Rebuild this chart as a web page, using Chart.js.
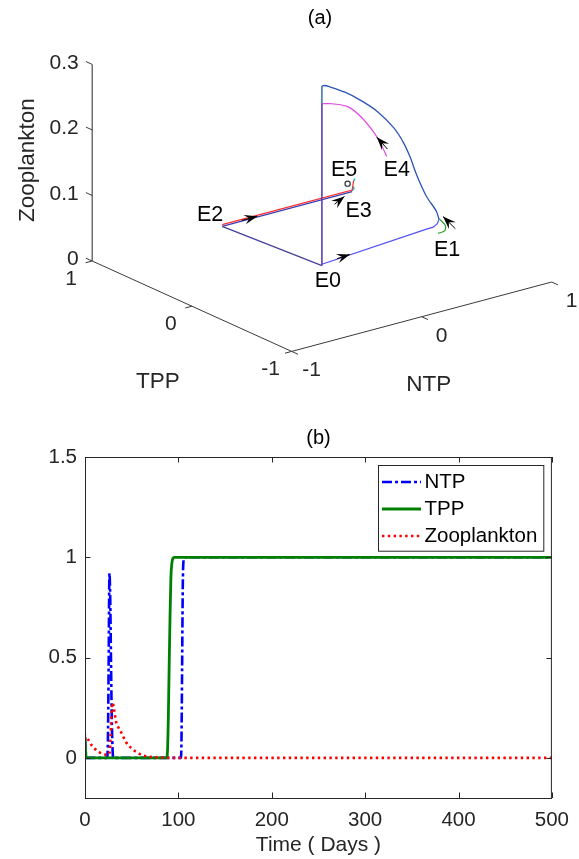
<!DOCTYPE html>
<html><head><meta charset="utf-8">
<script src="https://cdn.jsdelivr.net/npm/chart.js@4.4.1/dist/chart.umd.min.js"></script>
<style>
html,body{margin:0;padding:0;background:#fff;}
#wrap{position:relative;width:579px;height:859px;overflow:hidden;background:#fff;}
canvas{position:absolute;left:0;}
#ca{top:0;} #cb{top:420px;}
</style></head><body>
<div id="wrap"><canvas id="ca" width="579" height="420"></canvas><canvas id="cb" width="579" height="439"></canvas></div>
<script>
const FONT = '"Liberation Sans", Arial, Helvetica, sans-serif';
const AXIS_COLOR = '#262626';

// ================= Panel (a) data: 3-D phase portrait [NTP, TPP, Zooplankton] =================
const ntpRange = [-1, 1], tppRange = [-1, 1], zooRange = [0, 0.3];
const ntpTicks = [-1, 0, 1], tppTicks = [-1, 0, 1], zooTicks = [0, 0.1, 0.2, 0.3];

const orbitTopArc = [[0,0,0.283],[0.02,0.002,0.2826],[0.056,0.006,0.279],[0.193,0.02,0.262],[0.328,0.034,0.241],[0.465,0.048,0.216],[0.601,0.062,0.183],[0.683,0.07,0.155],[0.737,0.075,0.13],[0.792,0.081,0.0995],[0.874,0.09,0.062],[0.955,0.098,0.035],[0.977,0.1,0.021]];
const orbitBottom = [[0.977,0.1,0.021],[0.964,0.099,0.0152],[0.929,0.095,0.012],[0.874,0.09,0.0123],[0,0,0.011]];
const orbitVerticalTop = [[0,0,0.283],[0,0,0.256]];
const orbitVerticalLow = [[0,0,0.256],[0,0,0.009]];
const orbitE0E2 = [[0,0,0.009],[0,1,0]];
const orbitE2E3Blue = [[0,1,0],[1,1,0]];
const orbitE2E3Red = [[0,1,0.0025],[1,1,0.0025],[1,0.985,0.018]];
const orbitMagenta = [[0,0,0.256],[0.083,0.0085,0.251],[0.22,0.0225,0.238],[0.328,0.034,0.216],[0.438,0.045,0.185],[0.492,0.05,0.165],[0.541,0.055,0.143]];
const orbitGreen = [[0.977,0.1,0.022],[0.95,0,0.02],[0.943,0,0.012],[0.97,0.1,0]];
const orbitCyanA = [[1,1,0.001],[1.012,0.998,0.004],[1.008,0.995,0.008]];
const orbitCyanB = [[1,0.982,0.018],[1.004,0.98,0.021]];

const eqNames = ['E0','E1','E2','E3','E4','E5'];
const eqNTP = [0, 0.97, 0, 1, 0.541, 0.965];
const eqTPP = [0, 0.1, 1, 1, 0.055, 1];
const eqZoo = [0.009, 0, 0, 0, 0.143, 0.014];

const arrowTips  = [[0.27,1,0.001],[0.233,0.024,0.012],[0.97,0.05,0.029],[0.459,0.047,0.1774],[0.91,0.96,0]];
const arrowTails = [[0.15,1,0.001],[0.127,0.013,0.012],[0.95,-0.1,0.022],[0.547,0.056,0.154],[0.78,0.89,0]];

// ================= Panel (b) data: time series =================
const ntpDays   = [0, 0.8, 1.6, 23.5, 24.5, 25.3, 26.2, 27, 27.8, 28.6, 29.4, 30.2, 102.6, 103.3, 104, 104.7, 105.4, 106.3, 500];
const ntpValues = [0.1, 0.03, 0, 0, 0.08, 0.45, 0.92, 0.8, 0.5, 0.22, 0.06, 0, 0, 0.08, 0.45, 0.85, 0.98, 1, 1];
const tppDays   = [0, 0.8, 1.6, 87.3, 88.3, 89.2, 90.1, 91, 92, 93, 94.2, 95.5, 500];
const tppValues = [0.1, 0.02, 0, 0, 0.03, 0.19, 0.45, 0.69, 0.9, 0.97, 0.995, 1, 1];
const zooDays   = [0, 1, 3, 6.5, 10, 15.5, 20, 24, 26.5, 27.5, 28.5, 29.7, 31, 33.5, 36, 39, 44, 51.5, 56, 62, 68, 76, 85, 95, 500];
const zooValues = [0.1, 0.11, 0.095, 0.067, 0.048, 0.028, 0.019, 0.014, 0.03, 0.12, 0.23, 0.275, 0.245, 0.175, 0.15, 0.125, 0.078, 0.041, 0.027, 0.012, 0.006, 0.003, 0.001, 0, 0];
const timeTicks = [0, 100, 200, 300, 400, 500];
const valueTicks = [0, 0.5, 1, 1.5];

// ================= 3-D view (orthographic, MATLAB-like az/el) =================
const VIEW_AZ = -37.5, VIEW_EL = 20.5, BOX_ASPECT = [1, 1, 0.645];
const VIEW_PX_PER_UNIT = 333.7, VIEW_ORIGIN = [291.7, 355]; // viewport placement of the box corner
function proj(p) {
  const u = (p[0]-ntpRange[0])/(ntpRange[1]-ntpRange[0])*BOX_ASPECT[0];
  const v = (p[1]-tppRange[0])/(tppRange[1]-tppRange[0])*BOX_ASPECT[1];
  const w = (p[2]-zooRange[0])/(zooRange[1]-zooRange[0])*BOX_ASPECT[2];
  const a = VIEW_AZ*Math.PI/180, e = VIEW_EL*Math.PI/180;
  return { x: Math.cos(a)*u + Math.sin(a)*v,
           y: -Math.sin(e)*Math.sin(a)*u + Math.sin(e)*Math.cos(a)*v + Math.cos(e)*w };
}
function line3d(pts, color, width, extra) {
  return Object.assign({data: pts.map(proj), showLine: true, borderColor: color, backgroundColor: color,
    borderWidth: width, pointRadius: 0, pointHoverRadius: 0, tension: 0, fill: false, clip: false}, extra || {});
}
const TICK_N = 0.051, TICK_T = 0.063; // tick lengths in data units
const dsA = [];
// axes
dsA.push(line3d([[ntpRange[0],tppRange[1],zooRange[0]],[ntpRange[0],tppRange[1],zooRange[1]]], AXIS_COLOR, 1));
dsA.push(line3d([[ntpRange[0],tppRange[1],zooRange[0]],[ntpRange[0],tppRange[0],zooRange[0]]], '#3a3a3a', 1));
dsA.push(line3d([[ntpRange[0],tppRange[0],zooRange[0]],[ntpRange[1],tppRange[0],zooRange[0]]], '#3a3a3a', 1));
zooTicks.forEach(z => dsA.push(line3d([[ntpRange[0],tppRange[1],z],[ntpRange[0],tppRange[1]+TICK_T,z]], '#3a3a3a', 1)));
tppTicks.forEach(t => dsA.push(line3d([[ntpRange[0],t,zooRange[0]],[ntpRange[0]-TICK_N,t,zooRange[0]]], '#3a3a3a', 1)));
ntpTicks.forEach(n => dsA.push(line3d([[n,tppRange[0],zooRange[0]],[n,tppRange[0]-TICK_T,zooRange[0]]], '#3a3a3a', 1)));
// trajectories
dsA.push(line3d(orbitVerticalLow, '#5a40b4', 1.6));
dsA.push(line3d(orbitVerticalTop, '#2a64a4', 1.4));
dsA.push(line3d(orbitE0E2, '#45409c', 1.3));
dsA.push(line3d(orbitBottom, '#5050f4', 1.2));
dsA.push(line3d(orbitTopArc, '#2c54b6', 1.3, {tension: 0.3}));
dsA.push(line3d(orbitMagenta, '#e048e0', 1.2, {tension: 0.3}));
dsA.push(line3d(orbitGreen, '#2aa02a', 1.2, {tension: 0.3}));
dsA.push(line3d(orbitE2E3Blue, '#3c3cb0', 1.2));
dsA.push(line3d(orbitE2E3Red, '#ff2a2a', 1.2));
dsA.push(line3d(orbitCyanA, '#00c4c4', 1.2));
dsA.push(line3d(orbitCyanB, '#00c4c4', 1.6));
dsA.push({data: [proj([eqNTP[5], eqTPP[5], eqZoo[5]])], showLine: false, pointRadius: 2.6, pointStyle: 'circle',
  borderColor: '#333', borderWidth: 1.2, backgroundColor: 'rgba(0,0,0,0)', clip: false});

const labelOffsets = [[6,15],[9,16.5],[-12,-11],[6.5,19],[10,14],[-3.5,-14]];

function drawArrowHead(ctx, tail, tip) {
  const dx = tip[0]-tail[0], dy = tip[1]-tail[1], d = Math.hypot(dx, dy) || 1;
  const ux = dx/d, uy = dy/d, nx = -uy, ny = ux, L = 13, H = 4.8;
  ctx.beginPath(); ctx.moveTo(tail[0], tail[1]); ctx.lineTo(tip[0], tip[1]); ctx.stroke();
  const bx = tip[0]-ux*L, by = tip[1]-uy*L, mx = tip[0]-ux*L*0.62, my = tip[1]-uy*L*0.62;
  ctx.beginPath(); ctx.moveTo(tip[0], tip[1]); ctx.lineTo(bx+nx*H, by+ny*H); ctx.lineTo(mx, my);
  ctx.lineTo(bx-nx*H, by-ny*H); ctx.closePath(); ctx.fill();
}

const pluginA = {
  id: 'panelA',
  afterDatasetsDraw(chart) {
    const {ctx, scales: {x, y}} = chart;
    const px = p => { const q = proj(p); return [x.getPixelForValue(q.x), y.getPixelForValue(q.y)]; };
    ctx.save();
    ctx.fillStyle = '#000'; ctx.strokeStyle = '#000'; ctx.lineWidth = 1;
    arrowTips.forEach((tip, i) => drawArrowHead(ctx, px(arrowTails[i]), px(tip)));
    ctx.restore();
  },
  afterDraw(chart) {
    const {ctx, scales: {x, y}} = chart;
    const px = p => { const q = proj(p); return [x.getPixelForValue(q.x), y.getPixelForValue(q.y)]; };
    ctx.save();
    ctx.font = '21px ' + FONT; ctx.textBaseline = 'middle';
    ctx.fillStyle = AXIS_COLOR;
    ctx.textAlign = 'right';
    zooTicks.forEach(z => { const p = px([ntpRange[0], tppRange[1], z]); ctx.fillText(String(z), p[0]-13.5, p[1]-1.5); });
    ctx.textAlign = 'center';
    tppTicks.forEach(t => { const p = px([ntpRange[0], t, zooRange[0]]); ctx.fillText(String(t), p[0]-21, p[1]+18); });
    ntpTicks.forEach(n => { const p = px([n, tppRange[0], zooRange[0]]); ctx.fillText(String(n), p[0]+20, p[1]+19); });
    // axis labels
    ctx.font = '22.5px ' + FONT;
    let m = px([ntpRange[0], (tppRange[0]+tppRange[1])/2, zooRange[0]]);
    ctx.fillText('TPP', m[0]-34, m[1]+76);
    m = px([(ntpRange[0]+ntpRange[1])/2, tppRange[0], zooRange[0]]);
    ctx.fillText('NTP', m[0]+7, m[1]+68.5);
    m = px([ntpRange[0], tppRange[1], (zooRange[0]+zooRange[1])/2]);
    ctx.save(); ctx.translate(m[0]-64, m[1]-2.5); ctx.rotate(-Math.PI/2); ctx.fillText('Zooplankton', 0, 0); ctx.restore();
    // equilibrium labels
    ctx.font = '21.5px ' + FONT;
    ctx.fillStyle = '#000';
    eqNames.forEach((nm, i) => { const p = px([eqNTP[i], eqTPP[i], eqZoo[i]]); ctx.fillText(nm, p[0]+labelOffsets[i][0], p[1]+labelOffsets[i][1]); });
    // panel title
    ctx.font = '20px ' + FONT;
    ctx.fillText('(a)', 320, 18.5);
    ctx.restore();
  }
};

new Chart(document.getElementById('ca'), {
  type: 'scatter',
  data: {datasets: dsA},
  options: {
    responsive: false, animation: false, devicePixelRatio: 1, events: [],
    layout: {padding: 0},
    plugins: {legend: {display: false}, title: {display: false}, tooltip: {enabled: false}},
    scales: {
      x: {type: 'linear', display: false, min: -VIEW_ORIGIN[0]/VIEW_PX_PER_UNIT, max: (579-VIEW_ORIGIN[0])/VIEW_PX_PER_UNIT},
      y: {type: 'linear', display: false, min: -(420-VIEW_ORIGIN[1])/VIEW_PX_PER_UNIT, max: VIEW_ORIGIN[1]/VIEW_PX_PER_UNIT}
    }
  },
  plugins: [pluginA]
});

// ================= Panel (b) =================
const pts = (xs, ys) => xs.map((d, i) => ({x: d, y: ys[i]}));
const pluginB = {
  id: 'panelB',
  afterDatasetsDraw(chart) {
    const {ctx, chartArea: a, scales: {x, y}} = chart;
    ctx.save();
    ctx.strokeStyle = AXIS_COLOR; ctx.lineWidth = 1;
    ctx.strokeRect(a.left+0.5, a.top+0.5, a.right-a.left-1, a.bottom-a.top);
    const TL = 5.5;
    ctx.beginPath();
    timeTicks.forEach(v => { const p = Math.round(x.getPixelForValue(v))+0.5; ctx.moveTo(p, a.bottom); ctx.lineTo(p, a.bottom-TL); ctx.moveTo(p, a.top); ctx.lineTo(p, a.top+TL); });
    valueTicks.forEach(v => { const p = Math.round(y.getPixelForValue(v))+0.5; ctx.moveTo(a.left, p); ctx.lineTo(a.left+TL, p); ctx.moveTo(a.right, p); ctx.lineTo(a.right-TL, p); });
    ctx.stroke();
    ctx.restore();
  },
  afterDraw(chart) {
    const {ctx, chartArea: a} = chart;
    const W = 165.3, H = 85.7;
    const bx = Math.round(a.right - 9 - W) + 0.5, by = Math.round(a.top + 8.3) + 0.5;
    ctx.save();
    ctx.fillStyle = '#fff'; ctx.fillRect(bx, by, W, H);
    ctx.strokeStyle = '#262626'; ctx.lineWidth = 1; ctx.strokeRect(bx, by, W, H);
    ctx.font = '20.5px ' + FONT; ctx.textBaseline = 'middle'; ctx.textAlign = 'left';
    chart.data.datasets.forEach((ds, i) => {
      const yy = by + 16.5 + i*27;
      ctx.strokeStyle = ds.borderColor; ctx.lineWidth = ds.borderWidth;
      ctx.setLineDash(ds.borderDash || []);
      ctx.beginPath(); ctx.moveTo(bx+3.5, yy); ctx.lineTo(bx+42.5, yy); ctx.stroke();
      ctx.setLineDash([]);
      ctx.fillStyle = '#000'; ctx.fillText(ds.label, bx+46, yy);
    });
    ctx.restore();
  }
};

new Chart(document.getElementById('cb'), {
  type: 'line',
  data: {datasets: [
    {label: 'NTP', data: pts(ntpDays, ntpValues), borderColor: '#0000ff', borderWidth: 2.6, borderDash: [10, 3, 3, 3], pointRadius: 0, cubicInterpolationMode: 'monotone', fill: false, order: 3},
    {label: 'TPP', data: pts(tppDays, tppValues), borderColor: '#008000', borderWidth: 2.8, pointRadius: 0, cubicInterpolationMode: 'monotone', fill: false, order: 2},
    {label: 'Zooplankton', data: pts(zooDays, zooValues), borderColor: '#ff0000', borderWidth: 2.6, borderDash: [2.4, 3.4], pointRadius: 0, cubicInterpolationMode: 'monotone', fill: false, order: 1}
  ]},
  options: {
    responsive: false, animation: false, devicePixelRatio: 1, events: [],
    layout: {padding: {left: 0, right: 24, top: 0, bottom: 0}},
    plugins: {
      legend: {display: false}, tooltip: {enabled: false},
      title: {display: true, text: '(b)', fullSize: false, color: '#000', padding: {top: 6, bottom: 7},
        font: {family: FONT, size: 20, weight: 'normal', lineHeight: 1.2}}
    },
    scales: {
      x: {type: 'linear', min: 0, max: 500,
        afterBuildTicks: s => { s.ticks = timeTicks.map(v => ({value: v})); },
        afterFit: s => { s.height = 61; },
        grid: {display: false, drawTicks: false}, border: {display: false},
        ticks: {color: AXIS_COLOR, padding: 10, maxRotation: 0, font: {family: FONT, size: 20.5}},
        title: {display: true, text: 'Time ( Days )', color: AXIS_COLOR, padding: {top: 0, bottom: 1}, font: {family: FONT, size: 21, lineHeight: 1.2}}
      },
      y: {type: 'linear', min: -0.2, max: 1.5,
        afterBuildTicks: s => { s.ticks = valueTicks.map(v => ({value: v})); },
        afterFit: s => { s.width = 85; },
        grid: {display: false, drawTicks: false}, border: {display: false},
        ticks: {color: AXIS_COLOR, padding: 8, font: {family: FONT, size: 20.5}, callback: v => String(v)}
      }
    }
  },
  plugins: [pluginB]
});
</script></body></html>
